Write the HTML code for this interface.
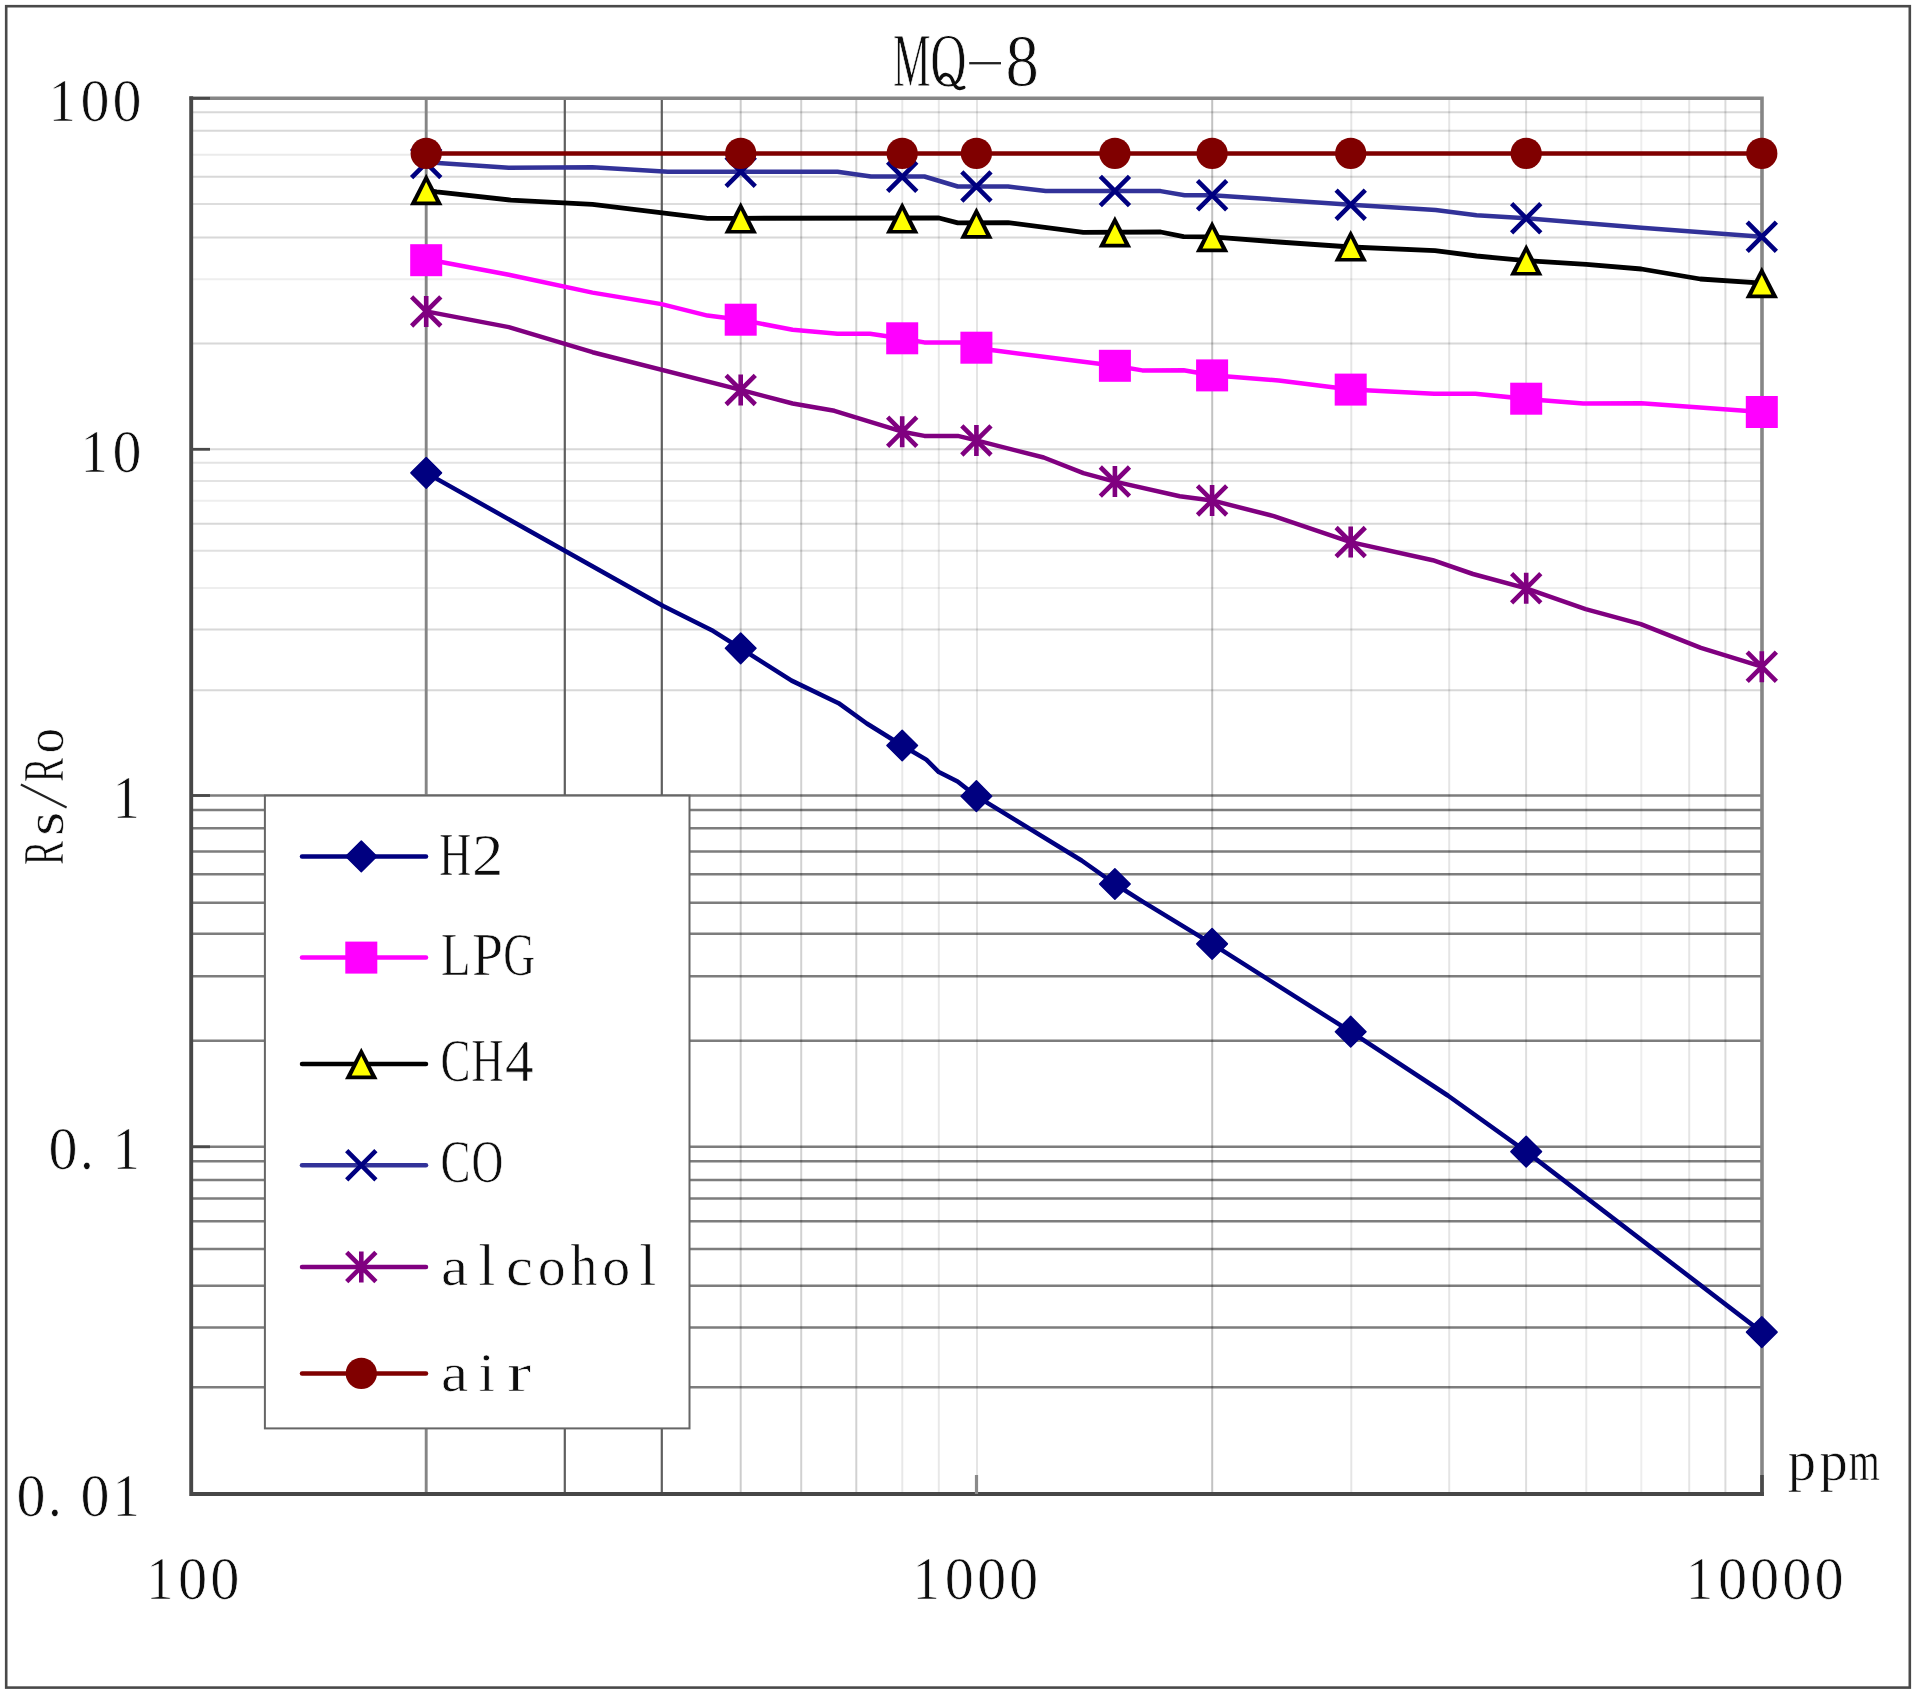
<!DOCTYPE html>
<html lang="en">
<head>
<meta charset="utf-8">
<title>MQ-8</title>
<style>
html,body{margin:0;padding:0;background:#fff;}
body{width:1915px;height:1697px;overflow:hidden;font-family:"Liberation Serif",serif;}
svg{display:block;}
text{font-family:"Liberation Serif",serif;}
</style>
</head>
<body>
<svg width="1915" height="1697" viewBox="0 0 1915 1697" role="img" aria-label="MQ-8 sensitivity characteristics: Rs/Ro versus ppm for H2, LPG, CH4, CO, alcohol, air">
<title>MQ-8</title><desc>Log-log chart of Rs/Ro (0.01 to 100) against gas concentration in ppm (100 to 10000) with series H2, LPG, CH4, CO, alcohol and air.</desc>
<defs><filter id="soft" x="0" y="0" width="100%" height="100%" filterUnits="objectBoundingBox"><feGaussianBlur stdDeviation="0.55"/></filter></defs>
<g filter="url(#soft)">
<rect x="0" y="0" width="1915" height="1697" fill="#fff"/>
<rect x="6.2" y="6.2" width="1903.6" height="1681.4" fill="none" stroke="#4a4a4a" stroke-width="2.6"/>
<g stroke-linecap="butt" fill="none">
<line x1="191.2" y1="112.2" x2="1762.0" y2="112.2" stroke="#d8d8d8" stroke-width="2"/>
<line x1="191.2" y1="130.8" x2="1762.0" y2="130.8" stroke="#d8d8d8" stroke-width="2"/>
<line x1="191.2" y1="154.8" x2="1762.0" y2="154.8" stroke="#ebebeb" stroke-width="2"/>
<line x1="191.2" y1="176.8" x2="1762.0" y2="176.8" stroke="#d8d8d8" stroke-width="2"/>
<line x1="191.2" y1="204.0" x2="1762.0" y2="204.0" stroke="#dddddd" stroke-width="2"/>
<line x1="191.2" y1="237.4" x2="1762.0" y2="237.4" stroke="#d8d8d8" stroke-width="2"/>
<line x1="191.2" y1="279.3" x2="1762.0" y2="279.3" stroke="#eeeeee" stroke-width="2"/>
<line x1="191.2" y1="343.6" x2="1762.0" y2="343.6" stroke="#d8d8d8" stroke-width="2"/>
<line x1="191.2" y1="449.3" x2="1762.0" y2="449.3" stroke="#d8d8d8" stroke-width="2"/>
<line x1="191.2" y1="462.8" x2="1762.0" y2="462.8" stroke="#e3e3e3" stroke-width="2"/>
<line x1="191.2" y1="481.0" x2="1762.0" y2="481.0" stroke="#e3e3e3" stroke-width="2"/>
<line x1="191.2" y1="500.8" x2="1762.0" y2="500.8" stroke="#eeeeee" stroke-width="2"/>
<line x1="191.2" y1="523.8" x2="1762.0" y2="523.8" stroke="#d8d8d8" stroke-width="2"/>
<line x1="191.2" y1="550.8" x2="1762.0" y2="550.8" stroke="#e0e0e0" stroke-width="2"/>
<line x1="191.2" y1="588.0" x2="1762.0" y2="588.0" stroke="#eeeeee" stroke-width="2"/>
<line x1="191.2" y1="629.6" x2="1762.0" y2="629.6" stroke="#d8d8d8" stroke-width="2"/>
<line x1="191.2" y1="690.2" x2="1762.0" y2="690.2" stroke="#d8d8d8" stroke-width="2"/>
<line x1="191.2" y1="795.5" x2="1762.0" y2="795.5" stroke="#7d7d7d" stroke-width="2.5"/>
<line x1="191.2" y1="809.9" x2="1762.0" y2="809.9" stroke="#7d7d7d" stroke-width="2.5"/>
<line x1="191.2" y1="828.3" x2="1762.0" y2="828.3" stroke="#7d7d7d" stroke-width="2.5"/>
<line x1="191.2" y1="851.5" x2="1762.0" y2="851.5" stroke="#7d7d7d" stroke-width="2.5"/>
<line x1="191.2" y1="874.3" x2="1762.0" y2="874.3" stroke="#7d7d7d" stroke-width="2.5"/>
<line x1="191.2" y1="902.8" x2="1762.0" y2="902.8" stroke="#7d7d7d" stroke-width="2.5"/>
<line x1="191.2" y1="933.8" x2="1762.0" y2="933.8" stroke="#7d7d7d" stroke-width="2.5"/>
<line x1="191.2" y1="976.3" x2="1762.0" y2="976.3" stroke="#7d7d7d" stroke-width="2.5"/>
<line x1="191.2" y1="1040.8" x2="1762.0" y2="1040.8" stroke="#7d7d7d" stroke-width="2.5"/>
<line x1="191.2" y1="1146.8" x2="1762.0" y2="1146.8" stroke="#7d7d7d" stroke-width="2.5"/>
<line x1="191.2" y1="1161.2" x2="1762.0" y2="1161.2" stroke="#7d7d7d" stroke-width="2.5"/>
<line x1="191.2" y1="1180.0" x2="1762.0" y2="1180.0" stroke="#7d7d7d" stroke-width="2.5"/>
<line x1="191.2" y1="1198.5" x2="1762.0" y2="1198.5" stroke="#7d7d7d" stroke-width="2.5"/>
<line x1="191.2" y1="1221.3" x2="1762.0" y2="1221.3" stroke="#7d7d7d" stroke-width="2.5"/>
<line x1="191.2" y1="1248.9" x2="1762.0" y2="1248.9" stroke="#7d7d7d" stroke-width="2.5"/>
<line x1="191.2" y1="1285.7" x2="1762.0" y2="1285.7" stroke="#7d7d7d" stroke-width="2.5"/>
<line x1="191.2" y1="1327.6" x2="1762.0" y2="1327.6" stroke="#7d7d7d" stroke-width="2.5"/>
<line x1="191.2" y1="1387.3" x2="1762.0" y2="1387.3" stroke="#7d7d7d" stroke-width="2.5"/>
<line x1="740.7" y1="98.3" x2="740.7" y2="1494.0" stroke="#000" stroke-opacity="0.20" stroke-width="2"/>
<line x1="801.2" y1="98.3" x2="801.2" y2="1494.0" stroke="#000" stroke-opacity="0.18" stroke-width="2"/>
<line x1="856.3" y1="98.3" x2="856.3" y2="1494.0" stroke="#000" stroke-opacity="0.18" stroke-width="2"/>
<line x1="902.3" y1="98.3" x2="902.3" y2="1494.0" stroke="#000" stroke-opacity="0.09" stroke-width="2"/>
<line x1="938.8" y1="98.3" x2="938.8" y2="1494.0" stroke="#000" stroke-opacity="0.09" stroke-width="2"/>
<line x1="977.0" y1="98.3" x2="977.0" y2="1494.0" stroke="#000" stroke-opacity="0.10" stroke-width="2"/>
<line x1="1212.2" y1="98.3" x2="1212.2" y2="1494.0" stroke="#000" stroke-opacity="0.24" stroke-width="2"/>
<line x1="1351.3" y1="98.3" x2="1351.3" y2="1494.0" stroke="#000" stroke-opacity="0.10" stroke-width="2"/>
<line x1="1449.2" y1="98.3" x2="1449.2" y2="1494.0" stroke="#000" stroke-opacity="0.10" stroke-width="2"/>
<line x1="1526.1" y1="98.3" x2="1526.1" y2="1494.0" stroke="#000" stroke-opacity="0.13" stroke-width="2"/>
<line x1="1586.3" y1="98.3" x2="1586.3" y2="1494.0" stroke="#000" stroke-opacity="0.09" stroke-width="2"/>
<line x1="1641.3" y1="98.3" x2="1641.3" y2="1494.0" stroke="#000" stroke-opacity="0.07" stroke-width="2"/>
<line x1="1689.2" y1="98.3" x2="1689.2" y2="1494.0" stroke="#000" stroke-opacity="0.10" stroke-width="2"/>
<line x1="1725.4" y1="98.3" x2="1725.4" y2="1494.0" stroke="#000" stroke-opacity="0.14" stroke-width="2"/>
<line x1="426.2" y1="98.3" x2="426.2" y2="1494.0" stroke="#858585" stroke-width="2.9"/>
<line x1="564.8" y1="98.3" x2="564.8" y2="1494.0" stroke="#5e5e5e" stroke-width="2.2"/>
<line x1="661.8" y1="98.3" x2="661.8" y2="1494.0" stroke="#5e5e5e" stroke-width="2.2"/>
</g>
<g fill="none" stroke-linecap="square">
<polyline points="191.2,98.3 1762.0,98.3 1762.0,1494.0" stroke="#868686" stroke-width="3.6"/>
<polyline points="191.2,98.3 191.2,1494.0 1762.0,1494.0" stroke="#474747" stroke-width="3.9"/>
</g>
<g stroke="#4a4a4a" stroke-width="2.8" fill="none">
<line x1="191.2" y1="98.3" x2="210.0" y2="98.3"/>
<line x1="191.2" y1="449.3" x2="210.0" y2="449.3"/>
<line x1="191.2" y1="795.5" x2="210.0" y2="795.5"/>
<line x1="191.2" y1="1146.8" x2="210.0" y2="1146.8"/>
</g>
<line x1="976.5" y1="1475" x2="976.5" y2="1494.0" stroke="#8a8a8a" stroke-width="3.2"/>
<line x1="1762.0" y1="1475" x2="1762.0" y2="1494.0" stroke="#4a4a4a" stroke-width="3.6"/>
<polyline fill="none" stroke="#000080" stroke-width="4.5" stroke-linejoin="round" stroke-linecap="round" points="426.2,472.9 663.2,606.0 713.3,631.1 740.7,648.3 791.6,680.6 838.6,703.2 866.8,723.5 902.2,745.5 926.3,759.6 938.8,772.1 957.6,781.5 976.4,796.2 1081.6,860.5 1114.9,884.0 1142.7,901.6 1212.1,943.9 1350.7,1031.7 1447.8,1095.5 1526.2,1151.6 1761.8,1332.1"/>
<path d="M426.2 457.6 L441.5 472.9 L426.2 488.2 L410.9 472.9Z" fill="#000080" stroke="#000080" stroke-width="1.5" stroke-linejoin="round"/>
<path d="M740.7 633.0 L756.0 648.3 L740.7 663.6 L725.4 648.3Z" fill="#000080" stroke="#000080" stroke-width="1.5" stroke-linejoin="round"/>
<path d="M902.2 730.2 L917.5 745.5 L902.2 760.8 L886.9 745.5Z" fill="#000080" stroke="#000080" stroke-width="1.5" stroke-linejoin="round"/>
<path d="M976.4 780.9 L991.7 796.2 L976.4 811.5 L961.1 796.2Z" fill="#000080" stroke="#000080" stroke-width="1.5" stroke-linejoin="round"/>
<path d="M1114.9 868.7 L1130.2 884.0 L1114.9 899.3 L1099.6 884.0Z" fill="#000080" stroke="#000080" stroke-width="1.5" stroke-linejoin="round"/>
<path d="M1212.1 928.6 L1227.4 943.9 L1212.1 959.2 L1196.8 943.9Z" fill="#000080" stroke="#000080" stroke-width="1.5" stroke-linejoin="round"/>
<path d="M1350.7 1016.4 L1366.0 1031.7 L1350.7 1047.0 L1335.4 1031.7Z" fill="#000080" stroke="#000080" stroke-width="1.5" stroke-linejoin="round"/>
<path d="M1526.2 1136.3 L1541.5 1151.6 L1526.2 1166.9 L1510.9 1151.6Z" fill="#000080" stroke="#000080" stroke-width="1.5" stroke-linejoin="round"/>
<path d="M1761.8 1316.8 L1777.1 1332.1 L1761.8 1347.4 L1746.5 1332.1Z" fill="#000080" stroke="#000080" stroke-width="1.5" stroke-linejoin="round"/>
<polyline fill="none" stroke="#ff00ff" stroke-width="4.5" stroke-linejoin="round" stroke-linecap="round" points="426.2,260.2 442.5,262.3 508.8,274.8 592.5,292.6 661.5,304.1 707.5,315.6 740.7,319.8 792.6,329.8 837.5,333.8 870.0,333.8 902.2,338.6 924.4,342.4 960.0,342.4 991.3,350.1 1114.9,365.8 1142.3,370.4 1183.6,370.2 1212.1,375.2 1278.7,380.5 1350.7,389.5 1434.0,393.8 1475.4,393.8 1526.2,398.9 1583.2,403.5 1641.3,403.2 1761.8,412.0"/>
<rect x="410.2" y="244.2" width="32" height="32" fill="#ff00ff"/>
<rect x="724.7" y="303.7" width="32" height="32" fill="#ff00ff"/>
<rect x="886.2" y="322.3" width="32" height="32" fill="#ff00ff"/>
<rect x="960.4" y="331.7" width="32" height="32" fill="#ff00ff"/>
<rect x="1098.9" y="349.8" width="32" height="32" fill="#ff00ff"/>
<rect x="1196.1" y="359.4" width="32" height="32" fill="#ff00ff"/>
<rect x="1334.7" y="373.6" width="32" height="32" fill="#ff00ff"/>
<rect x="1510.2" y="382.7" width="32" height="32" fill="#ff00ff"/>
<rect x="1745.8" y="396.0" width="32" height="32" fill="#ff00ff"/>
<polyline fill="none" stroke="#000000" stroke-width="4.8" stroke-linejoin="round" stroke-linecap="round" points="426.2,190.0 436.6,191.8 510.9,200.1 592.5,204.3 707.5,218.3 740.7,218.3 939.0,218.0 957.8,222.9 1008.0,222.6 1083.3,232.4 1160.6,232.0 1183.6,236.7 1212.1,236.8 1278.7,242.0 1350.7,247.0 1435.0,250.6 1476.5,256.0 1526.2,260.6 1586.3,264.4 1641.3,269.0 1700.3,279.0 1761.8,283.2"/>
<path d="M426.2 173.8 L442.5 205.3 L409.9 205.3Z" fill="#000"/>
<path d="M426.2 182.0 L435.8 201.6 L416.6 201.6Z" fill="#ffff00"/>
<path d="M740.7 202.1 L757.0 233.6 L724.4 233.6Z" fill="#000"/>
<path d="M740.7 210.3 L750.3 229.9 L731.1 229.9Z" fill="#ffff00"/>
<path d="M902.2 202.1 L918.5 233.6 L885.9 233.6Z" fill="#000"/>
<path d="M902.2 210.3 L911.8 229.9 L892.6 229.9Z" fill="#ffff00"/>
<path d="M976.4 207.3 L992.7 238.8 L960.1 238.8Z" fill="#000"/>
<path d="M976.4 215.5 L986.0 235.1 L966.8 235.1Z" fill="#ffff00"/>
<path d="M1114.9 216.0 L1131.2 247.5 L1098.6 247.5Z" fill="#000"/>
<path d="M1114.9 224.2 L1124.5 243.8 L1105.3 243.8Z" fill="#ffff00"/>
<path d="M1212.1 220.8 L1228.4 252.3 L1195.8 252.3Z" fill="#000"/>
<path d="M1212.1 229.0 L1221.7 248.6 L1202.5 248.6Z" fill="#ffff00"/>
<path d="M1350.7 230.1 L1367.0 261.6 L1334.4 261.6Z" fill="#000"/>
<path d="M1350.7 238.3 L1360.3 257.9 L1341.1 257.9Z" fill="#ffff00"/>
<path d="M1526.2 244.1 L1542.5 275.6 L1509.9 275.6Z" fill="#000"/>
<path d="M1526.2 252.3 L1535.8 271.9 L1516.6 271.9Z" fill="#ffff00"/>
<path d="M1761.8 266.8 L1778.1 298.3 L1745.5 298.3Z" fill="#000"/>
<path d="M1761.8 275.0 L1771.4 294.6 L1752.2 294.6Z" fill="#ffff00"/>
<polyline fill="none" stroke="#333399" stroke-width="4.5" stroke-linejoin="round" stroke-linecap="round" points="426.2,162.0 441.8,163.3 508.8,167.7 592.5,167.2 667.8,171.7 837.5,171.7 871.0,176.5 924.4,176.5 957.8,186.5 1008.0,186.5 1045.7,191.1 1160.6,191.1 1184.6,195.3 1212.1,195.3 1350.7,204.7 1435.6,210.0 1476.5,215.2 1526.2,218.3 1641.3,227.7 1761.8,236.7"/>
<path d="M411.6 148.4 L440.8 177.6 M411.6 177.6 L440.8 148.4" stroke="#000080" stroke-width="4.6" fill="none" stroke-linecap="butt"/>
<path d="M726.1 157.2 L755.3 186.4 M726.1 186.4 L755.3 157.2" stroke="#000080" stroke-width="4.6" fill="none" stroke-linecap="butt"/>
<path d="M887.6 162.2 L916.8 191.4 M887.6 191.4 L916.8 162.2" stroke="#000080" stroke-width="4.6" fill="none" stroke-linecap="butt"/>
<path d="M961.8 171.9 L991.0 201.1 M961.8 201.1 L991.0 171.9" stroke="#000080" stroke-width="4.6" fill="none" stroke-linecap="butt"/>
<path d="M1100.3 176.4 L1129.5 205.6 M1100.3 205.6 L1129.5 176.4" stroke="#000080" stroke-width="4.6" fill="none" stroke-linecap="butt"/>
<path d="M1197.5 180.7 L1226.7 209.9 M1197.5 209.9 L1226.7 180.7" stroke="#000080" stroke-width="4.6" fill="none" stroke-linecap="butt"/>
<path d="M1336.1 190.1 L1365.3 219.3 M1336.1 219.3 L1365.3 190.1" stroke="#000080" stroke-width="4.6" fill="none" stroke-linecap="butt"/>
<path d="M1511.6 203.7 L1540.8 232.9 M1511.6 232.9 L1540.8 203.7" stroke="#000080" stroke-width="4.6" fill="none" stroke-linecap="butt"/>
<path d="M1747.2 222.1 L1776.4 251.3 M1747.2 251.3 L1776.4 222.1" stroke="#000080" stroke-width="4.6" fill="none" stroke-linecap="butt"/>
<polyline fill="none" stroke="#800080" stroke-width="4.5" stroke-linejoin="round" stroke-linecap="round" points="426.2,311.4 508.8,327.1 592.5,352.2 740.7,389.9 792.6,403.5 834.4,410.8 902.2,431.7 924.4,435.9 957.8,435.9 976.4,440.4 1043.7,457.5 1083.4,473.2 1114.9,481.6 1179.7,496.2 1212.1,500.4 1273.8,516.1 1350.7,542.1 1432.8,560.2 1472.9,574.0 1526.2,588.3 1585.6,609.1 1640.8,624.1 1700.9,647.9 1761.8,666.7"/>
<path d="M411.6 296.8 L440.8 326.0 M411.6 326.0 L440.8 296.8 M426.2 295.9 L426.2 326.9" stroke="#800080" stroke-width="4.6" fill="none" stroke-linecap="butt"/>
<path d="M726.1 375.3 L755.3 404.5 M726.1 404.5 L755.3 375.3 M740.7 374.4 L740.7 405.4" stroke="#800080" stroke-width="4.6" fill="none" stroke-linecap="butt"/>
<path d="M887.6 417.1 L916.8 446.3 M887.6 446.3 L916.8 417.1 M902.2 416.2 L902.2 447.2" stroke="#800080" stroke-width="4.6" fill="none" stroke-linecap="butt"/>
<path d="M961.8 425.8 L991.0 455.0 M961.8 455.0 L991.0 425.8 M976.4 424.9 L976.4 455.9" stroke="#800080" stroke-width="4.6" fill="none" stroke-linecap="butt"/>
<path d="M1100.3 467.0 L1129.5 496.2 M1100.3 496.2 L1129.5 467.0 M1114.9 466.1 L1114.9 497.1" stroke="#800080" stroke-width="4.6" fill="none" stroke-linecap="butt"/>
<path d="M1197.5 485.8 L1226.7 515.0 M1197.5 515.0 L1226.7 485.8 M1212.1 484.9 L1212.1 515.9" stroke="#800080" stroke-width="4.6" fill="none" stroke-linecap="butt"/>
<path d="M1336.1 527.5 L1365.3 556.7 M1336.1 556.7 L1365.3 527.5 M1350.7 526.6 L1350.7 557.6" stroke="#800080" stroke-width="4.6" fill="none" stroke-linecap="butt"/>
<path d="M1511.6 573.7 L1540.8 602.9 M1511.6 602.9 L1540.8 573.7 M1526.2 572.8 L1526.2 603.8" stroke="#800080" stroke-width="4.6" fill="none" stroke-linecap="butt"/>
<path d="M1747.2 652.1 L1776.4 681.3 M1747.2 681.3 L1776.4 652.1 M1761.8 651.2 L1761.8 682.2" stroke="#800080" stroke-width="4.6" fill="none" stroke-linecap="butt"/>
<polyline fill="none" stroke="#800000" stroke-width="4.5" stroke-linejoin="round" stroke-linecap="round" points="426.2,153.4 1761.8,153.4"/>
<circle cx="426.2" cy="153.4" r="15.6" fill="#800000"/>
<circle cx="740.7" cy="153.4" r="15.6" fill="#800000"/>
<circle cx="902.2" cy="153.4" r="15.6" fill="#800000"/>
<circle cx="976.4" cy="153.4" r="15.6" fill="#800000"/>
<circle cx="1114.9" cy="153.4" r="15.6" fill="#800000"/>
<circle cx="1212.1" cy="153.4" r="15.6" fill="#800000"/>
<circle cx="1350.7" cy="153.4" r="15.6" fill="#800000"/>
<circle cx="1526.2" cy="153.4" r="15.6" fill="#800000"/>
<circle cx="1761.8" cy="153.4" r="15.6" fill="#800000"/>
<rect x="264.9" y="795.6" width="424.6" height="632.8" fill="#fff" stroke="#666" stroke-width="2"/>
<line x1="302" y1="856.4" x2="426" y2="856.4" stroke="#000080" stroke-width="4.5" stroke-linecap="round"/>
<path d="M361.3 841.1 L376.6 856.4 L361.3 871.7 L346.0 856.4Z" fill="#000080" stroke="#000080" stroke-width="1.5" stroke-linejoin="round"/>
<line x1="302" y1="957.6" x2="426" y2="957.6" stroke="#ff00ff" stroke-width="4.5" stroke-linecap="round"/>
<rect x="345.3" y="941.6" width="32" height="32" fill="#ff00ff"/>
<line x1="302" y1="1063.9" x2="426" y2="1063.9" stroke="#000000" stroke-width="4.5" stroke-linecap="round"/>
<path d="M361.3 1047.7 L377.6 1079.2 L345.0 1079.2Z" fill="#000"/>
<path d="M361.3 1055.9 L370.9 1075.5 L351.7 1075.5Z" fill="#ffff00"/>
<line x1="302" y1="1165.3" x2="426" y2="1165.3" stroke="#333399" stroke-width="4.5" stroke-linecap="round"/>
<path d="M346.7 1150.7 L375.9 1179.9 M346.7 1179.9 L375.9 1150.7" stroke="#000080" stroke-width="4.6" fill="none" stroke-linecap="butt"/>
<line x1="302" y1="1267.0" x2="426" y2="1267.0" stroke="#800080" stroke-width="4.5" stroke-linecap="round"/>
<path d="M346.7 1252.4 L375.9 1281.6 M346.7 1281.6 L375.9 1252.4 M361.3 1251.5 L361.3 1282.5" stroke="#800080" stroke-width="4.6" fill="none" stroke-linecap="butt"/>
<line x1="302" y1="1373.4" x2="426" y2="1373.4" stroke="#800000" stroke-width="4.5" stroke-linecap="round"/>
<circle cx="361.3" cy="1373.4" r="15.6" fill="#800000"/>
<g font-family="'Liberation Serif', serif" font-size="100" fill="#0a0a0a" stroke="#fff" stroke-width="1.2" opacity="0.995">
<text transform="matrix(0.4470 0 0 0.6048 438.97 874.90)">H</text>
<text transform="matrix(0.6275 0 0 0.6017 471.96 874.90)">2</text>
<text transform="matrix(0.4916 0 0 0.6048 440.85 975.30)">L</text>
<text transform="matrix(0.5575 0 0 0.6048 472.11 975.30)">P</text>
<text transform="matrix(0.4413 0 0 0.6048 503.35 975.30)">G</text>
<text transform="matrix(0.4495 0 0 0.6048 440.43 1081.20)">C</text>
<text transform="matrix(0.4470 0 0 0.6048 471.17 1081.20)">H</text>
<text transform="matrix(0.5736 0 0 0.6017 505.05 1081.20)">4</text>
<text transform="matrix(0.4495 0 0 0.6048 440.43 1182.40)">C</text>
<text transform="matrix(0.4401 0 0 0.6048 471.41 1182.40)">O</text>
<text transform="matrix(0.6114 0 0 0.5578 440.88 1285.00)">a</text>
<text transform="matrix(0.6136 0 0 0.5903 478.27 1285.00)">l</text>
<text transform="matrix(0.6038 0 0 0.5578 505.88 1285.00)">c</text>
<text transform="matrix(0.5579 0 0 0.5578 537.75 1285.00)">o</text>
<text transform="matrix(0.5379 0 0 0.5903 570.55 1285.00)">h</text>
<text transform="matrix(0.5579 0 0 0.5578 602.15 1285.00)">o</text>
<text transform="matrix(0.6136 0 0 0.5903 639.27 1285.00)">l</text>
<text transform="matrix(0.6114 0 0 0.5578 440.88 1391.10)">a</text>
<text transform="matrix(0.5924 0 0 0.5578 478.51 1391.10)">i</text>
<text transform="matrix(0.7277 0 0 0.5578 506.97 1391.10)">r</text>
<text transform="matrix(0.5397 0 0 0.6046 48.76 120.70)">1</text>
<text transform="matrix(0.5804 0 0 0.6046 80.49 120.70)">0</text>
<text transform="matrix(0.5804 0 0 0.6046 112.49 120.70)">0</text>
<text transform="matrix(0.5397 0 0 0.6046 80.76 471.70)">1</text>
<text transform="matrix(0.5804 0 0 0.6046 112.49 471.70)">0</text>
<text transform="matrix(0.5397 0 0 0.6046 112.76 817.90)">1</text>
<text transform="matrix(0.5804 0 0 0.6046 48.49 1169.20)">0</text>
<text transform="matrix(0.5501 0 0 0.6078 80.12 1169.20)">.</text>
<text transform="matrix(0.5397 0 0 0.6046 112.76 1169.20)">1</text>
<text transform="matrix(0.5804 0 0 0.6046 16.49 1516.40)">0</text>
<text transform="matrix(0.5501 0 0 0.6078 48.12 1516.40)">.</text>
<text transform="matrix(0.5804 0 0 0.6046 80.49 1516.40)">0</text>
<text transform="matrix(0.5397 0 0 0.6046 112.76 1516.40)">1</text>
<text transform="matrix(0.5431 0 0 0.6046 146.17 1598.80)">1</text>
<text transform="matrix(0.5841 0 0 0.6046 178.10 1598.80)">0</text>
<text transform="matrix(0.5841 0 0 0.6046 210.30 1598.80)">0</text>
<text transform="matrix(0.5431 0 0 0.6046 912.77 1598.80)">1</text>
<text transform="matrix(0.5841 0 0 0.6046 944.70 1598.80)">0</text>
<text transform="matrix(0.5841 0 0 0.6046 976.90 1598.80)">0</text>
<text transform="matrix(0.5841 0 0 0.6046 1009.10 1598.80)">0</text>
<text transform="matrix(0.5431 0 0 0.6046 1685.97 1598.80)">1</text>
<text transform="matrix(0.5841 0 0 0.6046 1717.90 1598.80)">0</text>
<text transform="matrix(0.5841 0 0 0.6046 1750.10 1598.80)">0</text>
<text transform="matrix(0.5841 0 0 0.6046 1782.30 1598.80)">0</text>
<text transform="matrix(0.5841 0 0 0.6046 1814.50 1598.80)">0</text>
<text transform="matrix(0.5661 0 0 0.5795 1787.80 1479.60)">p</text>
<text transform="matrix(0.5661 0 0 0.5795 1819.40 1479.60)">p</text>
<text transform="matrix(0.3997 0 0 0.5795 1848.85 1479.60)">m</text>
<text transform="matrix(0.4221 0 0 0.7529 892.95 85.60)">M</text>
<text transform="matrix(0.5030 0 0 0.7529 930.34 85.60)">O</text>
<text transform="matrix(0.6675 0 0 0.7454 1005.41 85.60)">8</text>
</g>
<line x1="969.2" y1="63.2" x2="1001" y2="63.2" stroke="#222" stroke-width="2.3"/>
<path d="M940.5 78.5 C943.5 72.5 950 73.5 952.5 80 C954.5 86 957 90.5 963.8 87.5" fill="none" stroke="#111" stroke-width="3.4" stroke-linecap="round"/>
<line x1="20.9" y1="784.6" x2="66.6" y2="807.5" stroke="#222" stroke-width="2.2"/>
<g font-family="'Liberation Serif', serif" font-size="100" fill="#0a0a0a" stroke="#fff" stroke-width="1.2" opacity="0.995">
<text transform="matrix(0 -0.3612 0.5712 0 63.30 864.99)">R</text>
<text transform="matrix(0 -0.6250 0.5403 0 63.30 836.06)">s</text>
<text transform="matrix(0 -0.3612 0.5712 0 63.30 781.89)">R</text>
<text transform="matrix(0 -0.5049 0.5403 0 63.30 753.27)">o</text>
</g>
</g>
</svg>
</body>
</html>
